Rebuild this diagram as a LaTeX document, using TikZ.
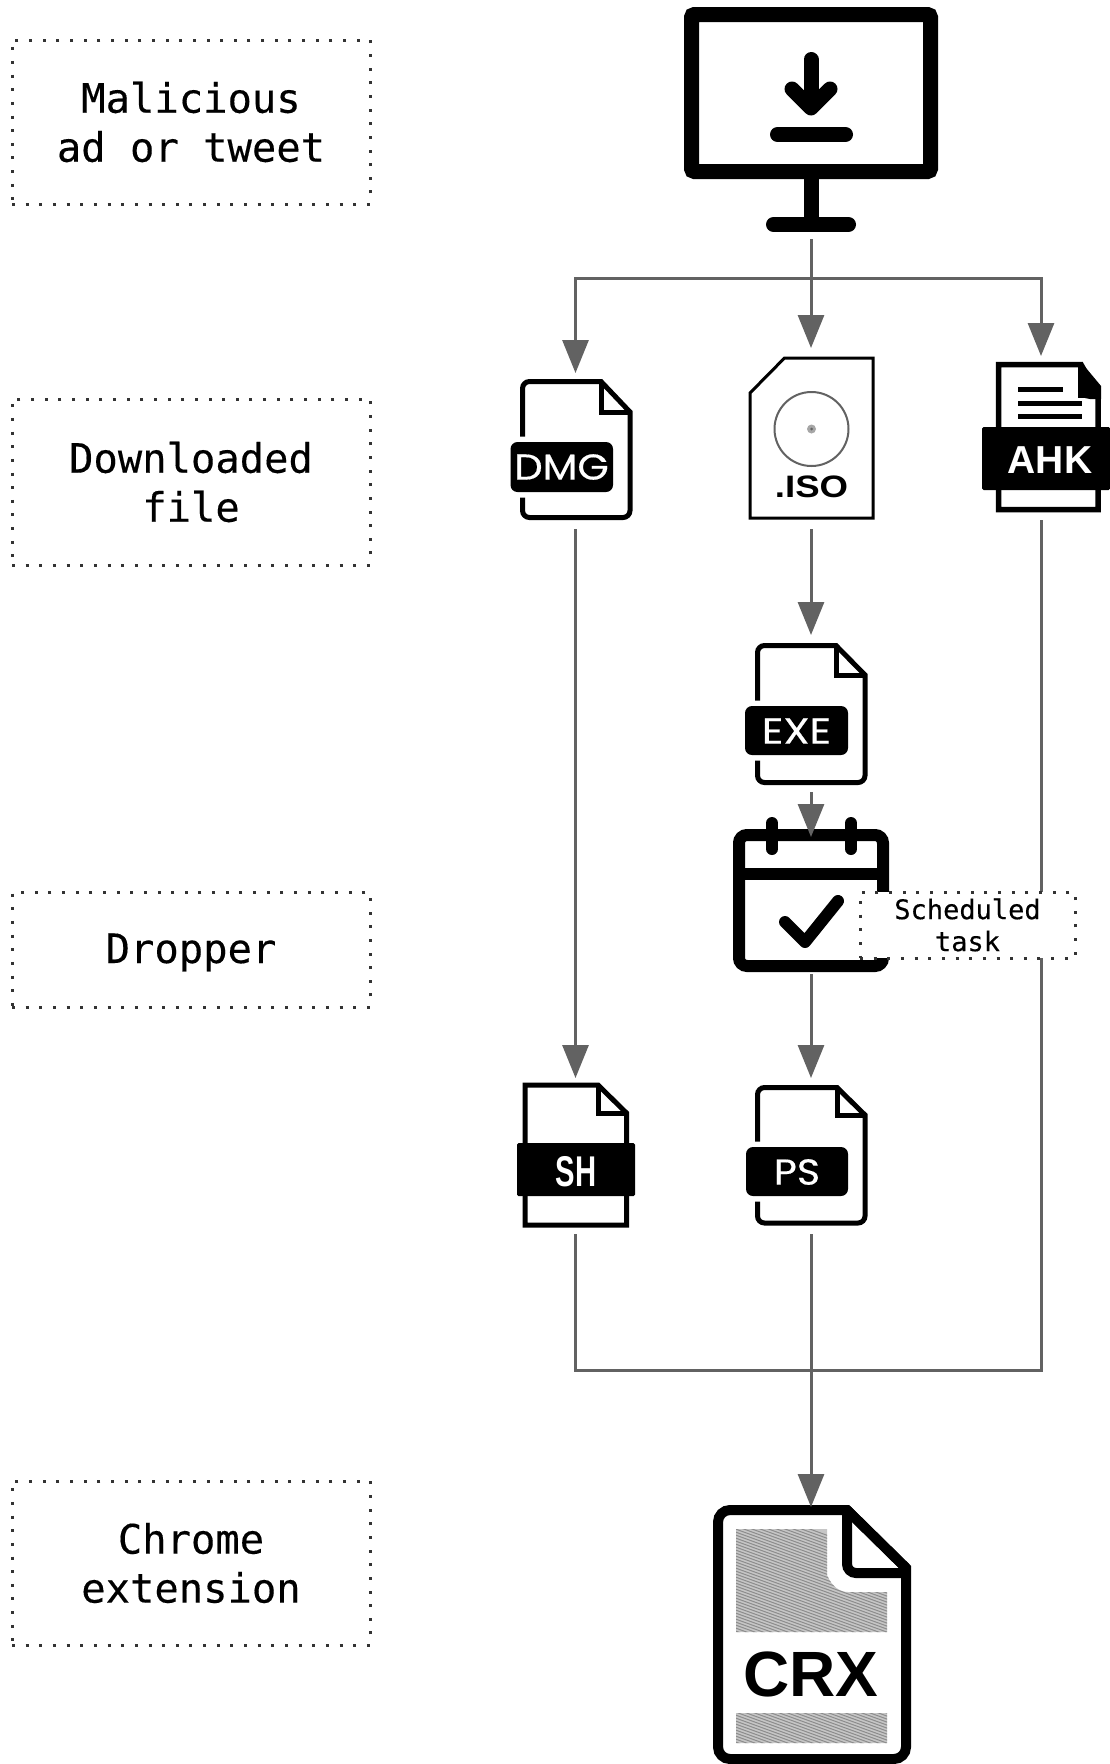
\documentclass[tikz,border=0pt]{standalone}
\usepackage{fontspec}
\setmainfont{Liberation Sans}
\newfontfamily\monof[FakeBold=0.3]{DejaVu Sans Mono}
\newfontfamily\popf[FakeBold=0.4]{Poppins}
\usetikzlibrary{arrows.meta}
\definecolor{conngray}{HTML}{626262}
\definecolor{dotgray}{HTML}{333333}
\tikzset{
  x=1pt,y=-1pt,
  conn/.style={draw=conngray,line width=3pt},
  connarrow/.style={conn,shorten >=-2pt,-{Triangle[width=26pt,length=33pt]}},
  anchorbox/.style={inner sep=0pt,outer sep=0pt,minimum width=100pt},
  labelbox/.style={draw=dotgray,line width=3pt,dash pattern=on 3pt off 10.65pt,fill=white,inner sep=0pt,align=center,font=\monof\fontsize{40.5}{49}\selectfont,text=black,minimum width=358pt},
  iconline/.style={draw=black,line join=miter,fill=white},
  tagtext/.style={text=white,inner sep=0pt},
}
% xl xr yt yb foldx foldy width
\newcommand{\roundfile}[7]{%
  \draw[iconline,line width=#7pt] (#1,{(#3+#4)/2}) [rounded corners=7pt] -- (#1,#3) [sharp corners] -- (#5,#3) -- (#2,#6) [rounded corners=7pt] -- (#2,#4) -- (#1,#4) -- cycle;
  \draw[draw=black,line width=#7pt] (#5,#3) -- (#5,#6) -- (#2,#6);
}
\newcommand{\squarefile}[7]{%
  \draw[iconline,line width=#7pt] (#1,#3) -- (#5,#3) -- (#2,#6) -- (#2,#4) -- (#1,#4) -- cycle;
  \draw[draw=black,line width=#7pt] (#5,#3) -- (#5,#6) -- (#2,#6);
}
% xl xr yt yb
\newcommand{\tagbox}[4]{%
  \draw[draw=white,line width=11pt,fill=black,rounded corners=7pt] (#1,#3) rectangle (#2,#4);
  \fill[black,rounded corners=7pt] (#1,#3) rectangle (#2,#4);
}
\begin{document}
\begin{tikzpicture}
\useasboundingbox (0,0) rectangle (1110,1764);
\fill[white] (0,0) rectangle (1110,1764);

% monitor
\draw[black,line width=15pt,rounded corners=3pt] (691.5,14.5) rectangle (930.5,171.5);
\draw[black,line width=15pt] (811,171.5) -- (811,224);
\draw[black,line width=15pt,line cap=round] (773.5,224.5) -- (848.5,224.5);
\draw[black,line width=15pt,line cap=round] (811,59.5) -- (811,105);
\draw[black,line width=15pt,line cap=round,line join=round] (792,89) -- (811,108) -- (830,89);
\draw[black,line width=15pt,line cap=round] (777.5,134.5) -- (845.5,134.5);

% DMG
\roundfile{522.5}{630}{381.5}{517.5}{601}{412}{5}
\tagbox{510.5}{613}{442}{492}
\node[tagtext,font=\popf\fontsize{36}{36}\selectfont,xscale=1.12] (dmgtag) at (561.5,467) {DMG};

% ISO
\draw[iconline,line width=3pt] (784.5,358) -- (873,358) -- (873,518) -- (750,518) -- (750,393) -- cycle;
\draw[draw=conngray,line width=2pt,fill=white] (811.5,429) circle (37);
\fill[gray!70] (811.5,429) circle (4.5);
\fill[conngray] (811.5,429) circle (1.5);
\node[inner sep=0pt,anchor=base,font=\bfseries\fontsize{31}{31}\selectfont,xscale=1.18] (isotag) at (811.5,497) {.ISO};

% AHK
\squarefile{998.5}{1098}{364.5}{509.5}{1081}{395}{5.5}
\fill[black] (1081,362) -- (1101,386) -- (1101,399) -- (1090,399) .. controls (1083,399) and (1079,394) .. (1079,388) -- (1079,362) -- cycle;
\fill[black] (1018,386.5) rectangle (1063,391.5);
\fill[black] (1018,400.5) rectangle (1082,405.5);
\fill[black] (1018,413.5) rectangle (1082,418.5);
\fill[black,rounded corners=1.5pt] (982,427) rectangle (1110,490);
\node[tagtext,font=\bfseries\fontsize{39}{39}\selectfont,anchor=base] (ahktag) at (1050,473) {AHK};

% EXE
\roundfile{757.5}{865}{645.5}{782.5}{836}{675}{5}
\tagbox{745}{848}{706}{755}
\node[tagtext,font=\popf\fontsize{36}{36}\selectfont,xscale=1.17] (exetag) at (796.5,731) {EXE};

% calendar
\draw[iconline,line width=12pt,rounded corners=8pt] (739,835) rectangle (883,966);
\draw[black,line width=12pt] (739,874) -- (883,874);
\draw[black,line width=12pt,line cap=round] (772,823) -- (772,849);
\draw[black,line width=12pt,line cap=round] (851,823) -- (851,849);
\draw[black,line width=12pt,line cap=round,line join=round] (785,922) -- (805,942) -- (838,901);

% SH
\squarefile{525}{626.5}{1085}{1225}{598}{1113}{5}
\fill[black,rounded corners=1.5pt] (517,1143) rectangle (635,1196);
\node[tagtext,font=\bfseries\fontsize{43}{43}\selectfont,xscale=.68,anchor=base] (shtag) at (576,1186) {SH};

% PS
\roundfile{757.5}{865}{1087.5}{1223}{837}{1115}{5}
\tagbox{746}{848}{1147}{1196}
\node[tagtext,font=\popf\fontsize{36}{36}\selectfont,xscale=1.1] (pstag) at (797,1172) {PS};

% CRX
\draw[iconline,line width=10pt,rounded corners=12pt] (718,1650) -- (718,1510) [sharp corners] -- (847,1510) -- (906,1568) [rounded corners=12pt] -- (906,1759) -- (718,1759) -- cycle;
\begin{scope}
  \clip (736,1529) -- (827,1529) -- (827,1575) .. controls (832,1587) and (840,1592) .. (848,1592) -- (887,1592) -- (887,1632) -- (736,1632) -- cycle
        (736,1713) rectangle (887,1743);
  \fill[gray!45] (730,1520) rectangle (895,1750);
  \foreach \k in {0,3,...,330} {
    \draw[gray!90,line width=1pt] (730,1500+\k) -- (895,1500+\k+60);
  }
\end{scope}
\draw[black,line width=10pt,rounded corners=9pt] (847,1510) -- (847,1573) -- (906,1573);
\draw[black,line width=10pt,line join=miter] (847,1510) -- (906,1568);
\node[inner sep=0pt,anchor=base,font=\bfseries\fontsize{64}{64}\selectfont] (crxtag) at (811,1696) {CRX};

% anchor nodes of the icons (connector ends)
\node[anchorbox,minimum height=231pt] (mon) at (811,123.5) {};
\coordinate (branch) at (811,278);
\coordinate (join) at (811,1370);
\node[anchorbox,minimum height=158pt] (dmg) at (575.5,450) {};
\node[anchorbox,minimum height=183pt] (iso) at (811,437.5) {};
\node[anchorbox,minimum height=166pt] (ahk) at (1041,437) {};
\node[anchorbox,minimum height=159pt] (exe) at (811,712.5) {};
\node[anchorbox,minimum height=139pt] (cal) at (811,904.5) {};
\node[anchorbox,minimum height=158pt] (sh) at (575.5,1155) {};
\node[anchorbox,minimum height=158pt] (ps) at (811,1155) {};
\node[anchorbox,minimum height=259pt] (crx) at (811,1634.5) {};

% connectors
\draw[conn] (mon.south) -- (branch);
\draw[connarrow] (branch) -| (dmg.north);
\draw[connarrow] (branch) -- (iso.north);
\draw[connarrow] (branch) -| (ahk.north);
\draw[connarrow] (iso.south) -- (exe.north);
\draw[connarrow] (exe.south) -- (cal.north);
\draw[connarrow] (cal.south) -- (ps.north);
\draw[connarrow] (dmg.south) -- (sh.north);
\draw[connarrow] (ps.south) -- (crx.north);
\draw[conn] (sh.south) |- (join) -| (ahk.south);

% labels
\node[labelbox,minimum height=164pt] (l1) at (191,122) {Malicious\\ad or tweet};
\node[labelbox,minimum height=166pt] (l2) at (191,482) {Downloaded\\file};
\node[labelbox,minimum height=115pt] (l3) at (191,949.5) {\raisebox{0pt}[30pt][3pt]{Dropper}};
\node[labelbox,minimum height=164pt] (l4) at (191,1563) {Chrome\\extension};
\node[labelbox,minimum width=215pt,minimum height=66pt,font=\monof\fontsize{27}{32}\selectfont] (sched) at (967.5,925) {Scheduled\\task};
\end{tikzpicture}
\end{document}
